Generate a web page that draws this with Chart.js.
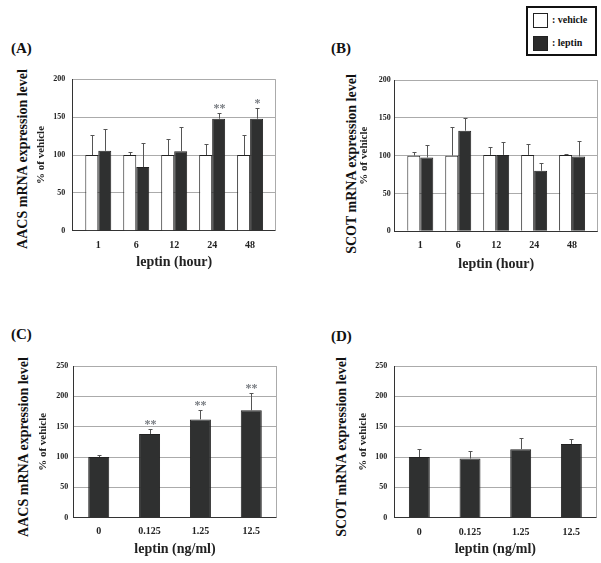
<!DOCTYPE html>
<html>
<head>
<meta charset="utf-8">
<script src="https://cdn.jsdelivr.net/npm/chart.js@4.4.1/dist/chart.umd.min.js"></script>
<style>
  body { margin: 0; background: #fff; font-family: "Liberation Serif", "Times New Roman", serif; color: #111; }
  #page { position: relative; width: 601px; height: 563px; overflow: hidden; }
  canvas { position: absolute; }
  .tag { position: absolute; font-weight: bold; font-size: 15px; line-height: 15px; white-space: nowrap; }
  .ytitle { position: absolute; font-weight: bold; font-size: 14px; line-height: 14px; white-space: nowrap;
            transform: translate(-50%, -50%) rotate(-90deg); }
  #legend { position: absolute; left: 526px; top: 6px; width: 71px; height: 50px; box-sizing: border-box;
            border: 2px solid #111; background: #fff; }
  #legend .sw { position: absolute; left: 5px; width: 15px; height: 15px; box-sizing: border-box; border: 1px solid #222; }
  #legend .txt { position: absolute; left: 24px; font-size: 10px; line-height: 10px; font-weight: bold; white-space: nowrap; }
</style>
</head>
<body>
<div id="page">
  <div class="tag" style="left:11px;top:41px">(A)</div>
  <div class="tag" style="left:331px;top:41px">(B)</div>
  <div class="tag" style="left:11px;top:327px">(C)</div>
  <div class="tag" style="left:331px;top:329px">(D)</div>

  <div class="ytitle" style="left:23px;top:159px">AACS mRNA expression level</div>
  <div class="ytitle" style="left:351.5px;top:164px">SCOT mRNA expression level</div>
  <div class="ytitle" style="left:23.5px;top:447px">AACS mRNA expression level</div>
  <div class="ytitle" style="left:342px;top:447px">SCOT mRNA expression level</div>

  <div id="legend">
    <span class="sw" style="top:5px;background:#fff"></span><span class="txt" style="top:7px">: vehicle</span>
    <span class="sw" style="top:28px;background:#2b2b2b"></span><span class="txt" style="top:30px">: leptin</span>
  </div>

  <canvas id="chartA" width="300" height="214" style="left:0;top:60px"></canvas>
  <canvas id="chartB" width="301" height="214" style="left:300px;top:60px"></canvas>
  <canvas id="chartC" width="300" height="218" style="left:0;top:345px"></canvas>
  <canvas id="chartD" width="301" height="218" style="left:300px;top:345px"></canvas>
</div>
<script>
// categories
const timeLabels = ['1', '6', '12', '24', '48'];
const doseLabels = ['0', '0.125', '1.25', '12.5'];

// y ticks
const timeTicks = [0, 50, 100, 150, 200];
const doseTicks = [0, 50, 100, 150, 200, 250];

// (A) AACS, leptin (hour)
const aacsTimeVehicle = [100, 100, 100, 100, 100];
const aacsTimeVehicleUpper = [127, 103.5, 120.5, 114, 126];
const aacsTimeLeptin = [105.5, 84, 105, 148, 148];
const aacsTimeLeptinUpper = [135, 115.5, 136.5, 155, 161.5];
const aacsTimeMarks = ['', '', '', '**', '*'];

// (B) SCOT, leptin (hour)
const scotTimeVehicle = [100, 100, 101, 101, 101];
const scotTimeVehicleUpper = [105, 138, 112, 115.5, 102.5];
const scotTimeLeptin = [97.5, 133, 101, 80, 99];
const scotTimeLeptinUpper = [114, 149.5, 118, 90, 119.5];

// (C) AACS, leptin (ng/ml)
const aacsDoseLeptin = [100, 138, 162, 177];
const aacsDoseLeptinUpper = [103.5, 145.5, 177, 205];
const aacsDoseMarks = ['', '**', '**', '**'];

// (D) SCOT, leptin (ng/ml)
const scotDoseLeptin = [100, 97.5, 113, 121.5];
const scotDoseLeptinUpper = [114, 109.5, 131.5, 129];

Chart.defaults.font.family = '"Liberation Serif", "Times New Roman", serif';
Chart.defaults.color = '#222';
Chart.defaults.animation = false;

const VEHICLE = '#ffffff';
const LEPTIN = '#2f3030';
const GRID = '#ababab';

// SD bars (upward only) + significance stars
const errorBars = {
  id: 'errorBars',
  afterDatasetsDraw(chart) {
    const ctx = chart.ctx;
    const y = chart.scales.y;
    chart.data.datasets.forEach((ds, i) => {
      chart.getDatasetMeta(i).data.forEach((bar, j) => {
        const top = Math.round(y.getPixelForValue(ds.upper[j])) + 0.5;
        const x = Math.round(bar.x) + 0.5;
        ctx.save();
        ctx.strokeStyle = '#555';
        ctx.lineWidth = 1;
        ctx.beginPath();
        ctx.moveTo(x, bar.y);
        ctx.lineTo(x, top);
        ctx.moveTo(x - 2, top);
        ctx.lineTo(x + 2, top);
        ctx.stroke();
        if (ds.marks && ds.marks[j]) {
          ctx.fillStyle = '#777b80';
          ctx.font = 'bold 12px "Liberation Serif"';
          ctx.textAlign = 'center';
          ctx.textBaseline = 'alphabetic';
          ctx.fillText(ds.marks[j], x, top - 2);
        }
        ctx.restore();
      });
    });
  }
};

// gray right edge of the plot frame
const frame = {
  id: 'frame',
  beforeDatasetsDraw(chart) {
    const {ctx, chartArea: a} = chart;
    ctx.save();
    ctx.strokeStyle = GRID;
    ctx.lineWidth = 1;
    ctx.beginPath();
    ctx.moveTo(Math.round(a.right) - 0.5, a.top);
    ctx.lineTo(Math.round(a.right) - 0.5, a.bottom);
    ctx.stroke();
    ctx.restore();
  }
};

function drawPanel(id, o) {
  new Chart(document.getElementById(id), {
    type: 'bar',
    data: {
      datasets: o.series.map(s => ({
        label: s.name,
        data: o.labels.map((c, i) => ({x: i, y: s.values[i]})),
        upper: s.upper,
        marks: s.marks,
        backgroundColor: s.color,
        borderColor: '#222',
        borderWidth: 1,
        categoryPercentage: o.catPct,
        barPercentage: o.barPct,
        xAxisID: 'x',
        yAxisID: 'y'
      }))
    },
    options: {
      responsive: false,
      layout: { padding: { left: o.padLeft, right: o.padRight, top: o.padTop, bottom: 0 } },
      plugins: { legend: { display: false }, tooltip: { enabled: false } },
      scales: {
        x: {
          type: 'linear',
          offset: false,
          min: -o.xEdge,
          max: o.labels.length - 1 + o.xEdge,
          afterBuildTicks: s => { s.ticks = o.labels.map((c, i) => ({value: i})); },
          afterFit: s => { s.height = o.xHeight; },
          grid: { display: true, drawOnChartArea: false, drawTicks: false, offset: false },
          border: { display: true, color: '#333', width: 1 },
          ticks: {
            callback: v => o.labels[v],
            font: { size: 10, weight: 'bold' },
            padding: o.xTickPad,
            maxRotation: 0
          },
          title: {
            display: true,
            text: o.xTitle,
            font: { size: 14, weight: 'bold', lineHeight: 1.2 },
            padding: { top: 0, bottom: o.xTitlePad }
          }
        },
        y: {
          min: 0,
          max: o.yTicks[o.yTicks.length - 1],
          afterBuildTicks: s => { s.ticks = o.yTicks.map(v => ({value: v})); },
          afterFit: s => { s.width = o.yWidth; },
          grid: {
            drawTicks: false,
            color: c => (c.tick && c.tick.value === 0) ? 'rgba(0,0,0,0)' : GRID,
            lineWidth: 1
          },
          border: { display: true, color: '#333', width: 1 },
          ticks: { font: { size: 8, weight: 'bold' }, padding: o.yTickPad },
          title: {
            display: true,
            text: '% of vehicle',
            font: { size: 11, weight: 'bold', lineHeight: 1 },
            padding: { top: o.yTitlePad, bottom: 0 }
          }
        }
      }
    },
    plugins: [frame, errorBars]
  });
}

drawPanel('chartA', {
  labels: timeLabels, yTicks: timeTicks, xTitle: 'leptin (hour)',
  series: [
    { name: 'vehicle', values: aacsTimeVehicle, upper: aacsTimeVehicleUpper, color: VEHICLE },
    { name: 'leptin', values: aacsTimeLeptin, upper: aacsTimeLeptinUpper, marks: aacsTimeMarks, color: LEPTIN }
  ],
  catPct: 0.684, barPct: 1, xEdge: 0.674,
  padLeft: 32, padRight: 24.3, padTop: 19.3,
  yWidth: 40.7, yTickPad: 7.5, yTitlePad: 3.5,
  xHeight: 43.3, xTickPad: 8.5, xTitlePad: 3.6
});

drawPanel('chartB', {
  labels: timeLabels, yTicks: timeTicks, xTitle: 'leptin (hour)',
  series: [
    { name: 'vehicle', values: scotTimeVehicle, upper: scotTimeVehicleUpper, color: VEHICLE },
    { name: 'leptin', values: scotTimeLeptin, upper: scotTimeLeptinUpper, color: LEPTIN }
  ],
  catPct: 0.684, barPct: 1, xEdge: 0.674,
  padLeft: 57, padRight: 3.3, padTop: 20,
  yWidth: 37.7, yTickPad: 4, yTitlePad: 2.1,
  xHeight: 42.7, xTickPad: 8.2, xTitlePad: 1.6
});

drawPanel('chartC', {
  labels: doseLabels, yTicks: doseTicks, xTitle: 'leptin (ng/ml)',
  series: [
    { name: 'leptin', values: aacsDoseLeptin, upper: aacsDoseLeptinUpper, marks: aacsDoseMarks, color: LEPTIN }
  ],
  catPct: 1, barPct: 0.413, xEdge: 0.5,
  padLeft: 32, padRight: 23.3, padTop: 21,
  yWidth: 41.3, yTickPad: 5, yTitlePad: 5.8,
  xHeight: 45.3, xTickPad: 7.8, xTitlePad: 5.6
});

drawPanel('chartD', {
  labels: doseLabels, yTicks: doseTicks, xTitle: 'leptin (ng/ml)',
  series: [
    { name: 'leptin', values: scotDoseLeptin, upper: scotDoseLeptinUpper, color: LEPTIN }
  ],
  catPct: 1, barPct: 0.413, xEdge: 0.5,
  padLeft: 50, padRight: 4.3, padTop: 21,
  yWidth: 44, yTickPad: 6.7, yTitlePad: 7.5,
  xHeight: 45.3, xTickPad: 8.3, xTitlePad: 5.6
});
</script>
</body>
</html>
